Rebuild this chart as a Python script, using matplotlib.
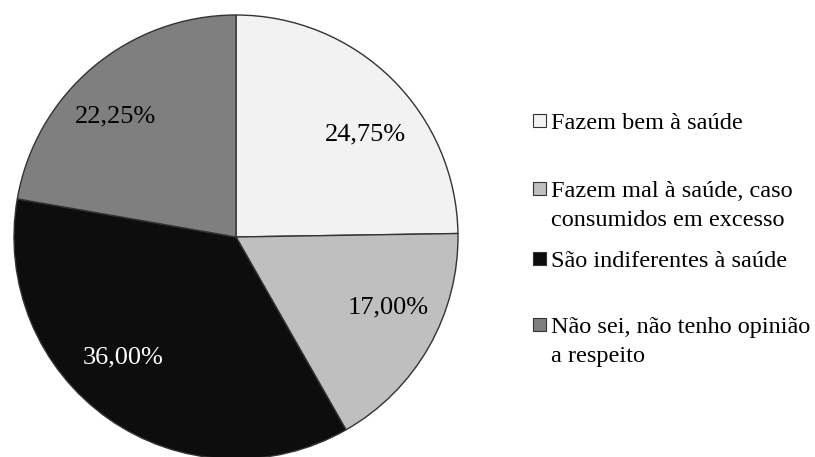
import numpy as np
import matplotlib.pyplot as plt
from matplotlib.patches import Rectangle

plt.rcParams['font.family'] = ['Liberation Serif', 'DejaVu Serif']

# dados
categorias = ['Fazem bem à saúde',
              'Fazem mal à saúde, caso\nconsumidos em excesso',
              'São indiferentes à saúde',
              'Não sei, não tenho opinião\na respeito']
valores = [24.75, 17.00, 36.00, 22.25]
cores = ['#f2f2f2', '#bfbfbf', '#0d0d0d', '#7f7f7f']
cor_texto = ['#000000', '#000000', '#ffffff', '#000000']

fig = plt.figure(figsize=(8.15, 4.57), dpi=100)
ax = fig.add_axes([0, 0, 1, 1])

wedges, _ = ax.pie(valores, colors=cores, startangle=90, counterclock=False,
                   center=(236, 220), radius=222, frame=True,
                   wedgeprops=dict(edgecolor='#333333', linewidth=1))
ax.set_xlim(0, 815)
ax.set_ylim(0, 457)
ax.set_aspect('auto')
ax.axis('off')

# rótulos de percentagem (ajuste angular como no original)
ajuste_ang = [-7, 5, -8, 5]
dist = [165, 168, 165, 170]
for w, v, c, da, d in zip(wedges, valores, cor_texto, ajuste_ang, dist):
    ang = np.deg2rad((w.theta1 + w.theta2) / 2 + da)
    x = 236 + d * np.cos(ang)
    y = 220 + d * np.sin(ang)
    ax.text(x, y, f'{v:.2f}%'.replace('.', ','), ha='center', va='center',
            fontsize=19, color=c, family='Liberation Serif')

# legenda manual (linha de base da primeira linha de cada item)
leg_base = [457 - 129, 457 - 197, 457 - 267, 457 - 333]
passo = 29
for nome, cor, y in zip(categorias, cores, leg_base):
    ax.add_patch(Rectangle((533, y + 2), 13, 13, facecolor=cor,
                           edgecolor='#333333', linewidth=0.8))
    for k, linha in enumerate(nome.split('\n')):
        ax.text(551, y - k * passo, linha, ha='left', va='baseline',
                fontsize=17.5, family='Liberation Serif')

fig.savefig('out.png', dpi=100)
